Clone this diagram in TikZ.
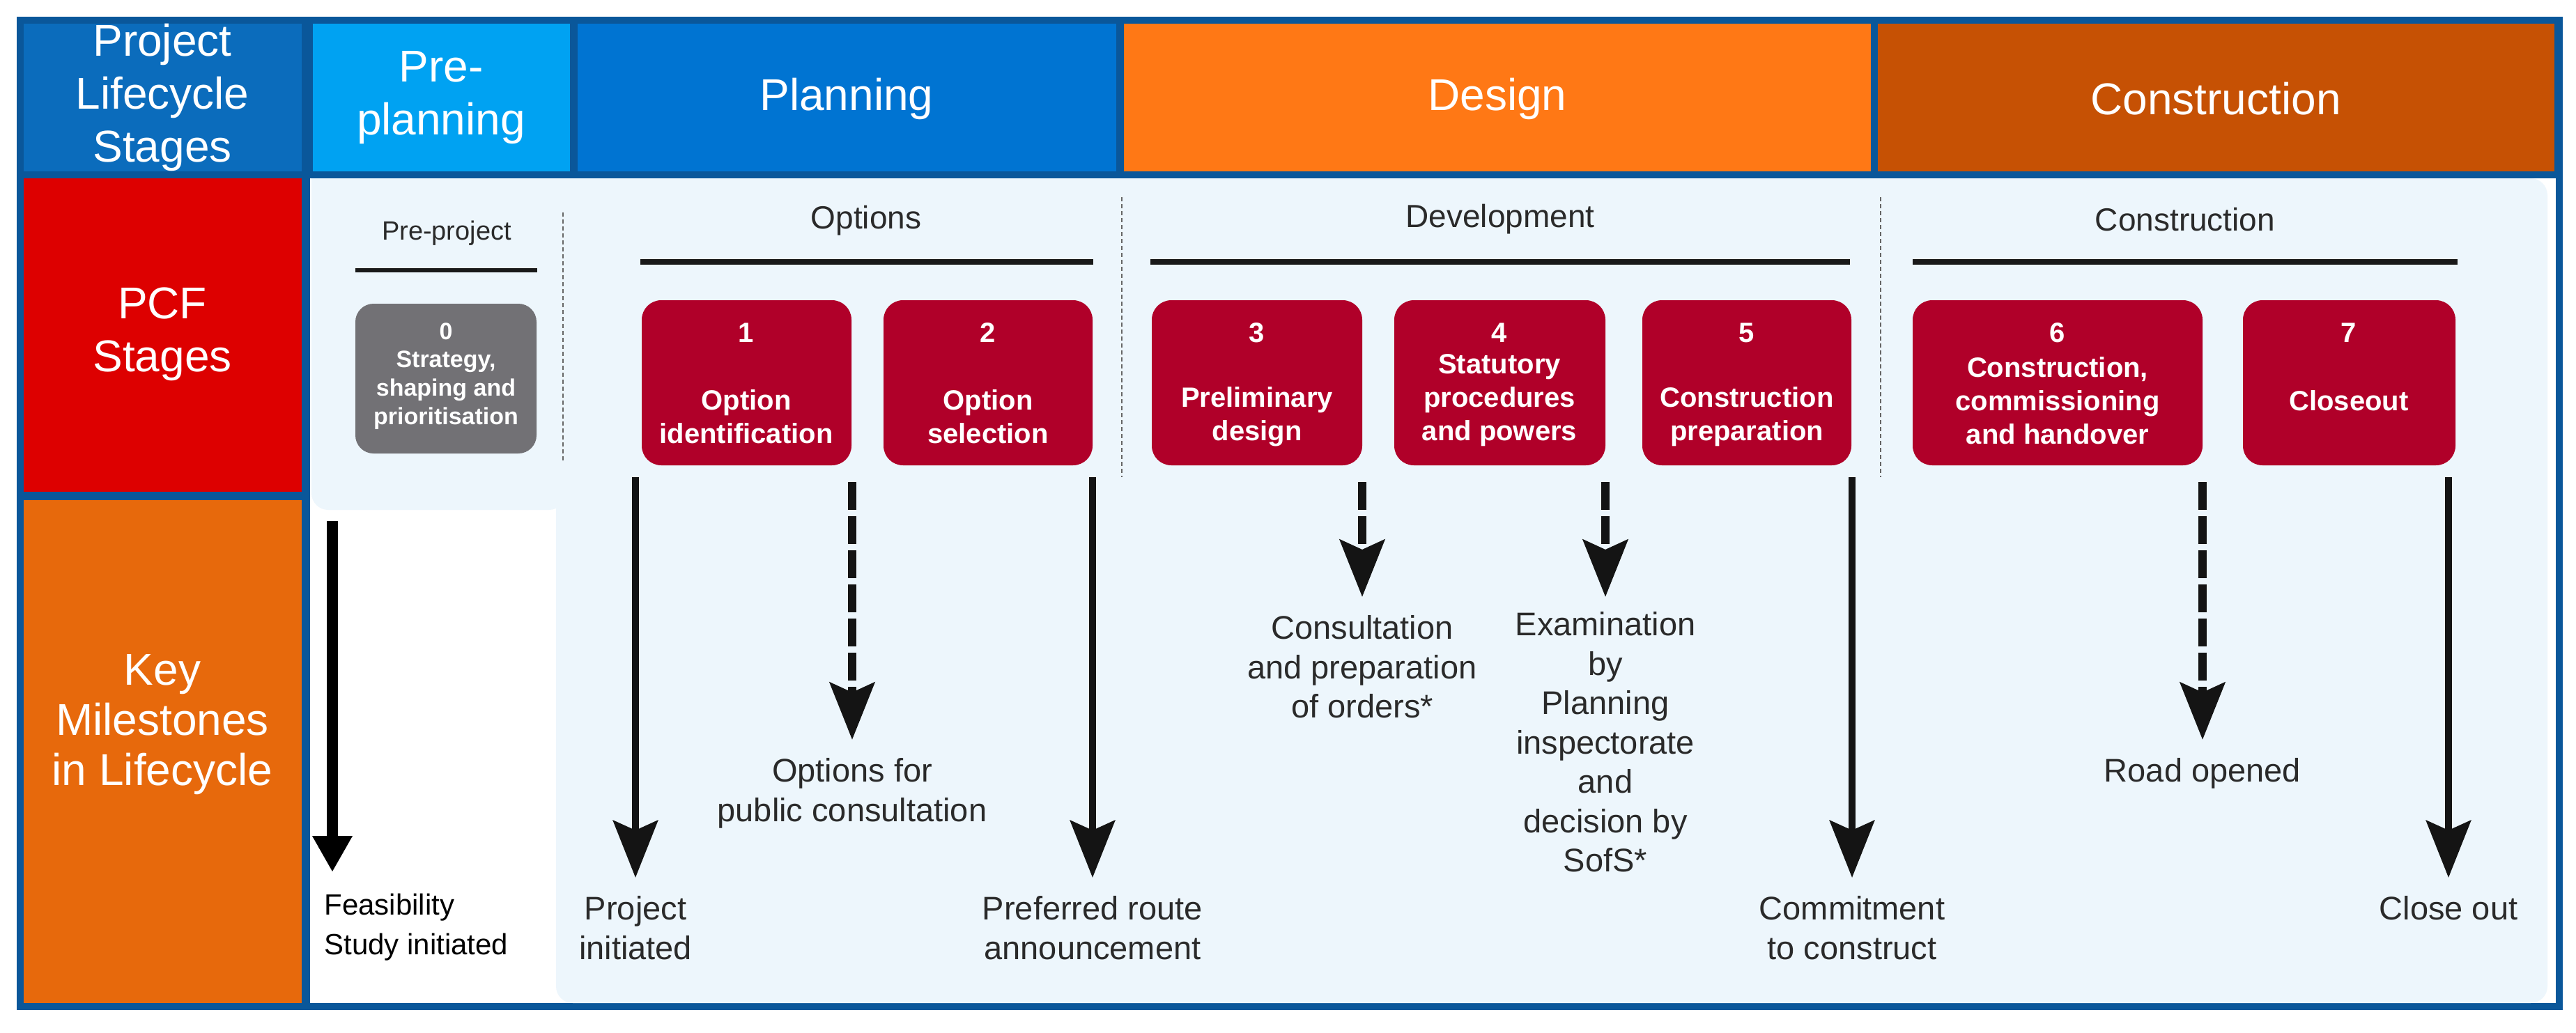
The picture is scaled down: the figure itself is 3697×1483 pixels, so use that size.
\documentclass[tikz,border=0pt]{standalone}
\usepackage{fontspec}
\setmainfont{Liberation Sans}
\usetikzlibrary{arrows.meta}
\definecolor{frameblue}{HTML}{0A579A}
\definecolor{plsblue}{HTML}{0B6CBC}
\definecolor{preblue}{HTML}{00A2F2}
\definecolor{planblue}{HTML}{0074D2}
\definecolor{designor}{HTML}{FF7815}
\definecolor{constror}{HTML}{C65104}
\definecolor{pcfred}{HTML}{DD0000}
\definecolor{keyor}{HTML}{E7690C}
\definecolor{panel}{HTML}{EDF6FC}
\definecolor{boxred}{HTML}{B00029}
\definecolor{boxgray}{HTML}{727175}
\definecolor{txtgray}{HTML}{2A2A2A}
\tikzset{
  x=1pt,y=-1pt,
  hdr/.style={text=white,align=center,font=\fontsize{64}{76}\selectfont},
  sec/.style={text=txtgray,font=\fontsize{46}{52}\selectfont},
  rule/.style={line width=8pt,black!90},
  sep/.style={line width=2.5pt,black!60,dash pattern=on 6pt off 4pt},
  pbox/.style={fill=boxred,rounded corners=28pt},
  pnum/.style={text=white,font=\bfseries\fontsize{40}{48}\selectfont},
  pname/.style={text=white,align=center,font=\bfseries\fontsize{40}{48}\selectfont},
  mtxt/.style={text=txtgray,align=center,font=\fontsize{47}{56.5}\selectfont},
  solidarr/.style={line width=10pt,black!92,-{Stealth[width=64pt,length=82pt,inset=14pt]}},
  dasharr/.style={line width=12pt,black!92,dash pattern=on 40pt off 9pt,-{Stealth[width=64pt,length=82pt,inset=14pt]}},
}
\begin{document}
\begin{tikzpicture}
\useasboundingbox (0,0) rectangle (3697,1483);
\fill[white] (0,0) rectangle (3697,1483);
% frame
\fill[frameblue] (24,24) rectangle (3678,1450);
% header row
\fill[plsblue] (34,34) rectangle (433,246);
\fill[preblue] (449,34) rectangle (818,246);
\fill[planblue] (829,34) rectangle (1602,246);
\fill[designor] (1613,34) rectangle (2685,246);
\fill[constror] (2695,34) rectangle (3666,246);
\node[hdr] (hpls) at (233,140) {Project\\Lifecycle\\Stages};
\node[hdr] (hpre) at (633,140) {Pre-\\planning};
\node[hdr] (hplan) at (1215,142) {Planning};
\node[hdr] (hdes) at (2149,142) {Design};
\node[hdr] (hcon) at (3180,142) {Construction};
% left labels
\fill[pcfred] (34,256) rectangle (433,706);
\fill[keyor] (34,718) rectangle (433,1440);
\node[hdr] (hpcf) at (233,480) {PCF\\Stages};
\node[hdr,font=\fontsize{64}{72}\selectfont] (hkey) at (233,1040) {Key\\Milestones\\in Lifecycle};
% content area
\fill[white] (445,256) rectangle (3668,1440);
\fill[panel,rounded corners=24pt] (447,256) rectangle (812,732);
\fill[panel,rounded corners=24pt] (798,256) rectangle (3656,1440);
\fill[panel] (447,256) rectangle (830,600);
% separators
\draw[sep] (808,305) -- (808,663);
\draw[sep] (1610,283) -- (1610,685);
\draw[sep] (2699,283) -- (2699,685);
% section titles and rules
\node[sec,font=\fontsize{38}{44}\selectfont] (spre) at (641,335) {Pre-project};
\draw[rule,line width=6pt] (510,388) -- (771,388);
\node[sec] (sopt) at (1243,317) {Options};
\draw[rule] (919,376) -- (1569,376);
\node[sec] (sdev) at (2153,315) {Development};
\draw[rule] (1651,376) -- (2655,376);
\node[sec] (scon) at (3136,315) {Construction};
\draw[rule] (2745,376) -- (3527,376);
% stage boxes
\fill[boxgray,rounded corners=26pt] (510,436) rectangle (770,651);
\node[pnum,font=\bfseries\fontsize{34}{41}\selectfont] (n0) at (640,476) {0};
\node[pname,font=\bfseries\fontsize{34}{41}\selectfont] (b0) at (640,560) {Strategy,\\shaping and\\prioritisation};
\fill[pbox] (921,431) rectangle (1222,668);
\node[pnum] (n1) at (1071,478) {1};
\node[pname] (b1) at (1071,598) {Option\\identification};
\fill[pbox] (1268,431) rectangle (1568,668);
\node[pnum] (n2) at (1418,478) {2};
\node[pname] (b2) at (1418,598) {Option\\selection};
\fill[pbox] (1653,431) rectangle (1955,668);
\node[pnum] (n3) at (1804,478) {3};
\node[pname] (b3) at (1804,598) {Preliminary\\design};
\fill[pbox] (2001,431) rectangle (2304,668);
\node[pnum] (n4) at (2152,478) {4};
\node[pname] (b4) at (2152,575) {Statutory\\procedures\\and powers};
\fill[pbox] (2357,431) rectangle (2657,668);
\node[pnum] (n5) at (2507,478) {5};
\node[pname] (b5) at (2507,598) {Construction\\preparation};
\fill[pbox] (2745,431) rectangle (3161,668);
\node[pnum] (n6) at (2953,478) {6};
\node[pname] (b6) at (2953,575) {Construction,\\commissioning\\and handover};
\fill[pbox] (3219,431) rectangle (3524,668);
\node[pnum] (n7) at (3371,478) {7};
\node[pname] (b7) at (3371,575) {Closeout};
% milestones text
\node[text=black,align=left,anchor=north west,font=\fontsize{42}{57}\selectfont] (m0) at (462,1280) {Feasibility\\Study initiated};
\node[mtxt,anchor=north] (m1) at (912,1283) {Project\\initiated};
\node[mtxt,anchor=north] (m1b) at (1223,1085) {Options for\\public consultation};
\node[mtxt,anchor=north] (m2) at (1568,1283) {Preferred route\\announcement};
\node[mtxt,anchor=north] (m3) at (1955,880) {Consultation\\and preparation\\of orders*};
\node[mtxt,anchor=north] (m4) at (2304,875) {Examination\\by\\Planning\\inspectorate\\and\\decision by\\SofS*};
\node[mtxt,anchor=north] (m5) at (2658,1283) {Commitment\\to construct};
\node[mtxt,anchor=north] (m6) at (3161,1085) {Road opened};
\node[mtxt,anchor=north] (m7) at (3514,1283) {Close out};
% arrow coordinates
\coordinate (s0) at (477,748);  \coordinate (t0) at (477,1252);
\coordinate (s1) at (912,685);  \coordinate (t1) at (912,1260);
\coordinate (s1b) at (1223,692); \coordinate (t1b) at (1223,1062);
\coordinate (s2) at (1568,685); \coordinate (t2) at (1568,1260);
\coordinate (s3) at (1955,692); \coordinate (t3) at (1955,857);
\coordinate (s4) at (2304,692); \coordinate (t4) at (2304,857);
\coordinate (s5) at (2658,685); \coordinate (t5) at (2658,1260);
\coordinate (s6) at (3161,692); \coordinate (t6) at (3161,1062);
\coordinate (s7) at (3514,685); \coordinate (t7) at (3514,1260);
\draw[line width=16pt,black,-{Triangle[width=54pt,length=52pt]}] (s0) -- (t0);
\draw[solidarr] (s1) -- (t1);
\draw[dasharr] (s1b) -- (t1b);
\draw[solidarr] (s2) -- (t2);
\draw[dasharr] (s3) -- (t3);
\draw[dasharr] (s4) -- (t4);
\draw[solidarr] (s5) -- (t5);
\draw[dasharr] (s6) -- (t6);
\draw[solidarr] (s7) -- (t7);
\end{tikzpicture}
\end{document}
